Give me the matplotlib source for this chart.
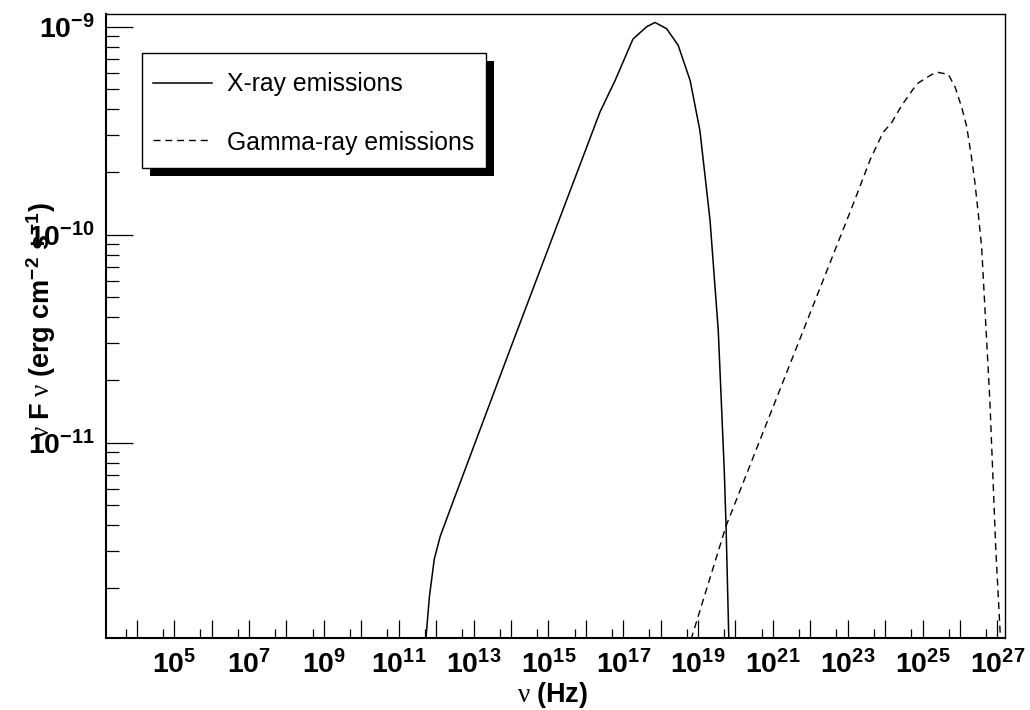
import numpy as np
import matplotlib
matplotlib.use("Agg")
import matplotlib.pyplot as plt
from matplotlib.ticker import FixedLocator, FuncFormatter, NullFormatter
from matplotlib.patches import Rectangle
from matplotlib.lines import Line2D

plt.rcParams["font.family"] = ["Liberation Sans", "DejaVu Sans"]
plt.rcParams["mathtext.fontset"] = "custom"
plt.rcParams["mathtext.rm"] = "Liberation Sans"
plt.rcParams["mathtext.bf"] = "Liberation Sans:bold"
plt.rcParams["mathtext.it"] = "Liberation Serif"

# SED curves, stored as log10(nu / Hz) and log10(nu F_nu / erg cm^-2 s^-1)
XRAY_LOGNU = [11.70, 11.82, 11.95, 12.11, 12.46, 13.98, 15.39, 16.38, 16.78,
              17.26, 17.63, 17.85, 18.16, 18.47, 18.79, 19.05, 19.32, 19.54,
              19.70, 19.75, 19.83]
XRAY_LOGFLUX = [-12.00, -11.74, -11.56, -11.45, -11.28, -10.55, -9.88, -9.41,
                -9.26, -9.06, -9.00, -8.98, -9.01, -9.09, -9.26, -9.50, -9.93,
                -10.46, -11.13, -11.41, -12.00]

GAMMA_LOGNU = [18.72, 19.75, 23.11, 23.60, 23.94, 24.18, 24.44, 24.75, 24.89,
               25.25, 25.42, 25.69, 25.87, 26.05, 26.18, 26.31, 26.40, 26.49,
               26.58, 26.80, 26.96, 27.10]
GAMMA_LOGFLUX = [-12.00, -11.40, -9.87, -9.64, -9.51, -9.46, -9.38, -9.30, -9.27,
                 -9.23, -9.22, -9.23, -9.29, -9.39, -9.48, -9.63, -9.75, -9.90,
                 -10.06, -10.80, -11.52, -12.00]

LABELS = ["X-ray emissions", "Gamma-ray emissions"]
X_RANGE = (1.5e3, 1.6e27)
Y_RANGE = (1.15e-12, 1.15e-9)
X_DECADES = np.arange(4, 28)
Y_DECADES = np.arange(-12, -8)

fig = plt.figure(figsize=(10.3, 7.1), dpi=100)
ax = fig.add_axes([106 / 1030, 72 / 710, 899 / 1030, 624 / 710])

ax.plot(10.0 ** np.array(XRAY_LOGNU), 10.0 ** np.array(XRAY_LOGFLUX),
        color="black", lw=1.1, solid_joinstyle="round")
ax.plot(10.0 ** np.array(GAMMA_LOGNU), 10.0 ** np.array(GAMMA_LOGFLUX),
        color="black", lw=1.0, ls=(0, (5, 3.5)))

ax.set_xscale("log")
ax.set_yscale("log")
ax.set_xlim(*X_RANGE)
ax.set_ylim(*Y_RANGE)

# decade ticks, labelled every other decade on x
ax.xaxis.set_major_locator(FixedLocator(10.0 ** X_DECADES))
ax.xaxis.set_minor_locator(FixedLocator(5 * 10.0 ** (X_DECADES - 1)))
ax.xaxis.set_major_formatter(FuncFormatter(
    lambda v, _: r"$\mathbf{10^{%d}}$" % round(np.log10(v)) if round(np.log10(v)) % 2 else ""))
ax.xaxis.set_minor_formatter(NullFormatter())

ax.yaxis.set_major_locator(FixedLocator(10.0 ** Y_DECADES))
ax.yaxis.set_minor_locator(FixedLocator(
    [k * 10.0 ** d for d in Y_DECADES for k in range(2, 10)]))
ax.yaxis.set_major_formatter(FuncFormatter(
    lambda v, _: r"$\mathbf{10^{%d}}$" % round(np.log10(v))))
ax.yaxis.set_minor_formatter(NullFormatter())

ax.tick_params(which="both", direction="in", top=False, right=False,
               width=0.9, labelsize=20.5)
ax.tick_params(axis="x", which="major", length=13, pad=8.5)
ax.tick_params(axis="x", which="minor", length=6.5)
ax.tick_params(axis="y", which="major", length=19.5, pad=8)
ax.tick_params(axis="y", which="minor", length=9.5)

for side in ("left", "bottom"):
    ax.spines[side].set_linewidth(1.5)
for side in ("top", "right"):
    ax.spines[side].set_linewidth(1.0)

ax.set_xlabel(r"$\nu\ \mathbf{(Hz)}$", fontsize=19.5)
ax.xaxis.set_label_coords(0.497, -0.068)
ax.set_ylabel(r"$\nu\ \mathbf{F}\ \nu\ \mathbf{(erg\ cm^{-2}\ s^{-1})}$", fontsize=19.5)
ax.yaxis.set_label_coords(-0.053, 0.508)

# boxed legend with a solid drop shadow
x0, x1 = 0.0397, 0.4227
y0, y1 = 0.7527, 0.938
sx, sy = 8 / 899, 8 / 624
ax.add_patch(Rectangle((x0 + sx, y0 - sy), x1 - x0, y1 - y0, transform=ax.transAxes,
                       facecolor="black", edgecolor="black", lw=0, zorder=5))
ax.add_patch(Rectangle((x0, y0), x1 - x0, y1 - y0, transform=ax.transAxes,
                       facecolor="white", edgecolor="black", lw=1.0, zorder=6))
styles = [dict(lw=1.1, ls="-"), dict(lw=1.0, ls=(0, (5, 3.5)))]
for label, style, yl, yt in zip(LABELS, styles, (0.8899, 0.798), (0.877, 0.7816)):
    ax.add_line(Line2D([0.0523, 0.1179], [yl, yl], transform=ax.transAxes,
                       color="black", zorder=7, **style))
    ax.text(0.1343, yt, label, transform=ax.transAxes, fontsize=17.8,
            va="baseline", ha="left", zorder=7)

fig.savefig("out.png", dpi=100)
